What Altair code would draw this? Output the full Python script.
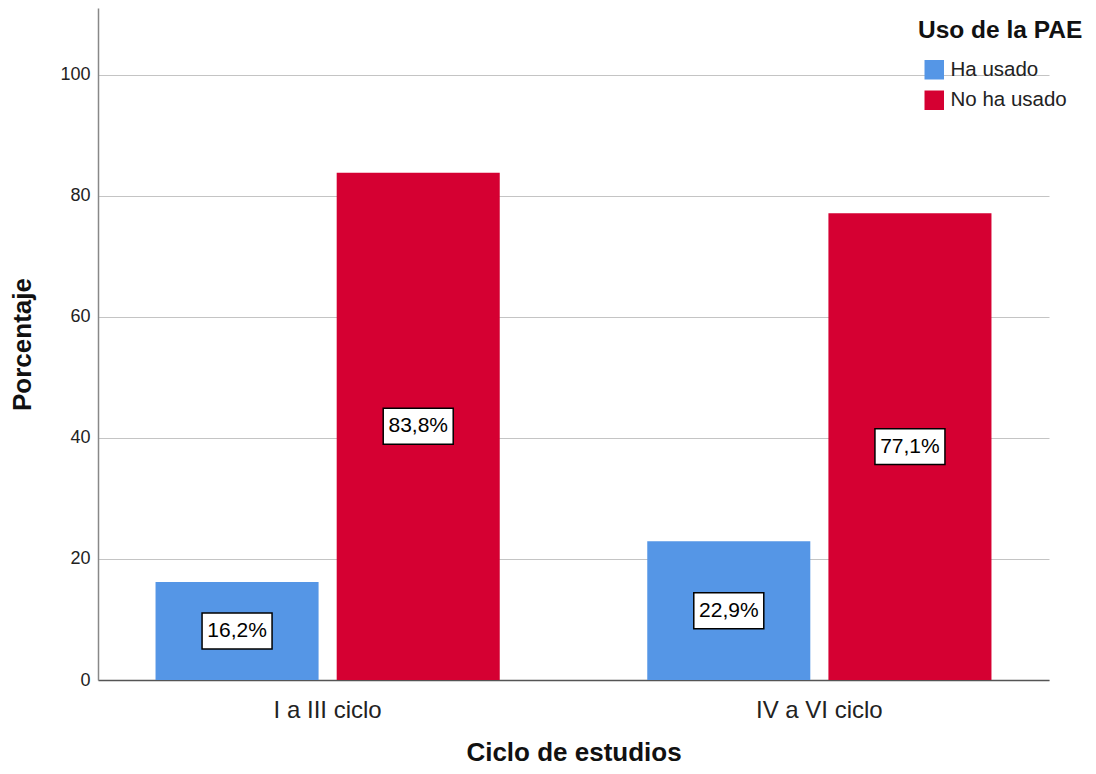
import altair as alt
import pandas as pd

categories = ["I a III ciclo", "IV a VI ciclo"]
series = ["Ha usado", "No ha usado"]
ha_usado = [16.2, 22.9]
no_ha_usado = [83.8, 77.1]
colors = ["#5596E6", "#D50032"]
y_ticks = [0, 20, 40, 60, 80, 100]

rows = []
for i, c in enumerate(categories):
    for s, vals in zip(series, [ha_usado, no_ha_usado]):
        v = vals[i]
        rows.append({"ciclo": c, "uso": s, "pct": v, "mid": v / 2,
                     "label": f"{v:.1f}".replace(".", ",") + "%"})
df = pd.DataFrame(rows)

FONT = "Liberation Sans"

x_enc = alt.X(
    "ciclo:N", sort=categories,
    scale=alt.Scale(paddingInner=0.3, paddingOuter=0.117),
    axis=alt.Axis(
        title="Ciclo de estudios", labelAngle=0, labelFontSize=24, labelFont=FONT,
        labelColor="#222222", labelPadding=37, labelBaseline="alphabetic",
        ticks=False, tickSize=0, domainColor="#555555", domainWidth=1.5, grid=False,
        titleFontSize=26, titleFont=FONT, titleFontWeight="bold", titleColor="#111111",
        titleX=475.5, titleY=80, titleAlign="center", titleBaseline="alphabetic",
    ),
)
xo_enc = alt.XOffset("uso:N", sort=series,
                     scale=alt.Scale(paddingInner=0.1, paddingOuter=0))

y_scale = alt.Scale(domain=[0, 111], nice=False, zero=True)

bars = alt.Chart(df).mark_bar().encode(
    x=x_enc,
    xOffset=xo_enc,
    y=alt.Y(
        "pct:Q", scale=y_scale,
        axis=alt.Axis(
            values=y_ticks, title="Porcentaje", labelFontSize=18, labelFont=FONT,
            labelColor="#222222", labelPadding=8, ticks=False, tickSize=0,
            domainColor="#888888", domainWidth=1.5, grid=True, gridColor="#c4c4c4",
            gridWidth=1, titleFontSize=26, titleFont=FONT, titleFontWeight="bold",
            titleColor="#111111", titleAngle=270, titleX=-76, titleY=336,
            titleAlign="center", titleBaseline="middle",
        ),
    ),
    color=alt.Color(
        "uso:N", sort=series, scale=alt.Scale(domain=series, range=colors),
        legend=alt.Legend(
            title="Uso de la PAE", orient="none", legendX=820, legendY=11,
            titleFontSize=24.5, titleFont=FONT, titleFontWeight="bold", titleColor="#111111",
            titlePadding=16, labelFontSize=20.5, labelFont=FONT, labelColor="#222222",
            labelOffset=6, symbolType="square", symbolSize=380, symbolStrokeWidth=0,
            symbolOffset=6, rowPadding=9.5, padding=0, symbolOpacity=1,
        ),
    ),
)

boxes = alt.Chart(df).mark_point(
    shape="M-1,-0.514L1,-0.514L1,0.514L-1,0.514Z", size=4900,
    fill="white", stroke="black", strokeWidth=1.5, opacity=1, fillOpacity=1,
).encode(
    x=alt.X("ciclo:N", sort=categories),
    xOffset=alt.XOffset("uso:N", sort=series),
    y=alt.Y("mid:Q", scale=y_scale, title="Porcentaje"),
)

texts = alt.Chart(df).mark_text(
    fontSize=21, font=FONT, color="black", baseline="middle", align="center",
).encode(
    x=alt.X("ciclo:N", sort=categories),
    xOffset=alt.XOffset("uso:N", sort=series),
    y=alt.Y("mid:Q", scale=y_scale, title="Porcentaje"),
    text="label:N",
)

chart = alt.layer(bars, boxes, texts).properties(
    width=951, height=672,
    autosize=alt.AutoSizeParams(type="none"),
    padding={"left": 90, "top": 0, "right": 38, "bottom": 86},
).configure(background="white").configure_view(stroke=None)

chart.save("out.html", embed_options={"renderer": "svg", "actions": False})
